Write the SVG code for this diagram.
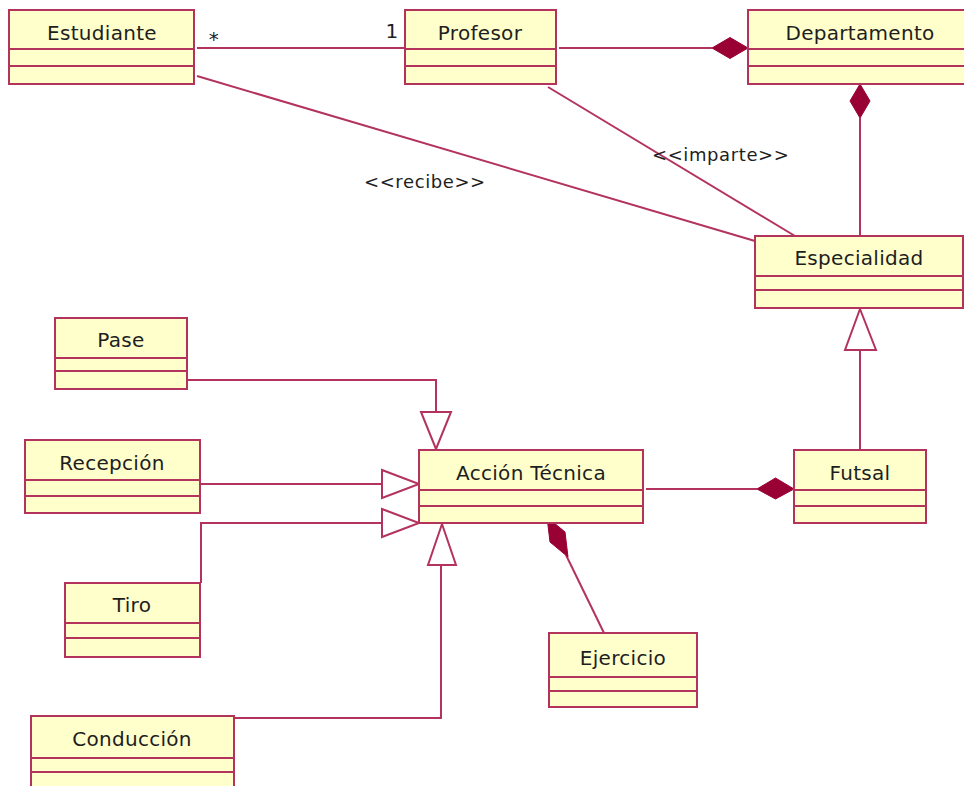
<svg xmlns="http://www.w3.org/2000/svg" width="964" height="786" viewBox="0 0 964 786">
<style>
.box{fill:#FFFFCC;stroke:#B3335C;stroke-width:2}
.div{stroke:#B3335C;stroke-width:2}
.nm{font-family:"DejaVu Sans",Verdana,sans-serif;font-size:20px;fill:#1E1E1E;text-anchor:middle;letter-spacing:0.3px}
.ln{fill:none;stroke:#B3335C;stroke-width:2}
.dia{fill:#990033;stroke:#990033;stroke-width:1}
.tri{fill:#FFFFFF;stroke:#B3335C;stroke-width:2}
.lbl{font-family:"DejaVu Sans",Verdana,sans-serif;font-size:18px;fill:#1E1E1E;letter-spacing:0.6px}
</style>
<rect width="964" height="786" fill="#FFFFFF"/>
<g id="connectors">
<line class="ln" x1="197" y1="48" x2="405" y2="48"/>
<text class="nm" x="214" y="46" style="text-anchor:middle">*</text>
<text class="nm" x="392" y="38" style="text-anchor:middle">1</text>
<line class="ln" x1="559" y1="48" x2="712" y2="48"/>
<polygon class="dia" points="712,48 730,37.5 748,48 730,58.5"/>
<line class="ln" x1="860" y1="118" x2="860" y2="236"/>
<polygon class="dia" points="860,84 870,101 860,118 850,101"/>
<line class="ln" x1="197" y1="76" x2="755" y2="241"/>
<text class="lbl" x="364" y="188">&lt;&lt;recibe&gt;&gt;</text>
<line class="ln" x1="548" y1="87" x2="795" y2="236"/>
<text class="lbl" x="652" y="161">&lt;&lt;imparte&gt;&gt;</text>
<line class="ln" x1="860" y1="350" x2="860" y2="450"/>
<polygon class="tri" points="860,309 876,350 845,350"/>
<polyline class="ln" points="187,380 436,380 436,412"/>
<polygon class="tri" points="421,412 451,412 436,449"/>
<line class="ln" x1="200" y1="484" x2="382" y2="484"/>
<polygon class="tri" points="382,470 419,484 382,498"/>
<polyline class="ln" points="201,583 201,523 382,523"/>
<polygon class="tri" points="382,509 419,523 382,537"/>
<polyline class="ln" points="234,718 441,718 441,565"/>
<polygon class="tri" points="442,524 456,565 428,565"/>
<line class="ln" x1="646" y1="489" x2="757" y2="489"/>
<polygon class="dia" points="757,489 775.5,478 794,489 775.5,499"/>
<line class="ln" x1="566" y1="555" x2="604" y2="633"/>
<polygon class="dia" points="547,517 565,532 568,557 550,542"/>
</g>
<g id="Estudiante">
<rect class="box" x="9" y="10" width="185" height="74"/>
<line class="div" x1="9" y1="49" x2="194" y2="49"/>
<line class="div" x1="9" y1="66" x2="194" y2="66"/>
<text class="nm" x="102" y="40">Estudiante</text>
</g>
<g id="Profesor">
<rect class="box" x="405" y="10" width="151" height="74"/>
<line class="div" x1="405" y1="49" x2="556" y2="49"/>
<line class="div" x1="405" y1="66" x2="556" y2="66"/>
<text class="nm" x="480" y="40">Profesor</text>
</g>
<g id="Departamento">
<rect class="box" x="748" y="10" width="226" height="74"/>
<line class="div" x1="748" y1="49" x2="974" y2="49"/>
<line class="div" x1="748" y1="66" x2="974" y2="66"/>
<text class="nm" x="860" y="40">Departamento</text>
</g>
<g id="Especialidad">
<rect class="box" x="755" y="236" width="208" height="72"/>
<line class="div" x1="755" y1="276" x2="963" y2="276"/>
<line class="div" x1="755" y1="290" x2="963" y2="290"/>
<text class="nm" x="859" y="265">Especialidad</text>
</g>
<g id="Pase">
<rect class="box" x="55" y="318" width="132" height="71"/>
<line class="div" x1="55" y1="358" x2="187" y2="358"/>
<line class="div" x1="55" y1="371" x2="187" y2="371"/>
<text class="nm" x="121" y="347">Pase</text>
</g>
<g id="Recepcion">
<rect class="box" x="25" y="440" width="175" height="73"/>
<line class="div" x1="25" y1="480" x2="200" y2="480"/>
<line class="div" x1="25" y1="496" x2="200" y2="496"/>
<text class="nm" x="112" y="470">Recepción</text>
</g>
<g id="Tiro">
<rect class="box" x="65" y="583" width="135" height="74"/>
<line class="div" x1="65" y1="623" x2="200" y2="623"/>
<line class="div" x1="65" y1="638" x2="200" y2="638"/>
<text class="nm" x="132" y="612">Tiro</text>
</g>
<g id="AccionTecnica">
<rect class="box" x="419" y="450" width="224" height="73"/>
<line class="div" x1="419" y1="490" x2="643" y2="490"/>
<line class="div" x1="419" y1="506" x2="643" y2="506"/>
<text class="nm" x="531" y="480">Acción Técnica</text>
</g>
<g id="Futsal">
<rect class="box" x="794" y="450" width="132" height="73"/>
<line class="div" x1="794" y1="490" x2="926" y2="490"/>
<line class="div" x1="794" y1="506" x2="926" y2="506"/>
<text class="nm" x="860" y="480">Futsal</text>
</g>
<g id="Ejercicio">
<rect class="box" x="549" y="633" width="148" height="74"/>
<line class="div" x1="549" y1="677" x2="697" y2="677"/>
<line class="div" x1="549" y1="691" x2="697" y2="691"/>
<text class="nm" x="623" y="665">Ejercicio</text>
</g>
<g id="Conduccion">
<rect class="box" x="31" y="716" width="203" height="80"/>
<line class="div" x1="31" y1="758" x2="234" y2="758"/>
<line class="div" x1="31" y1="772" x2="234" y2="772"/>
<text class="nm" x="132" y="746">Conducción</text>
</g>
</svg>
